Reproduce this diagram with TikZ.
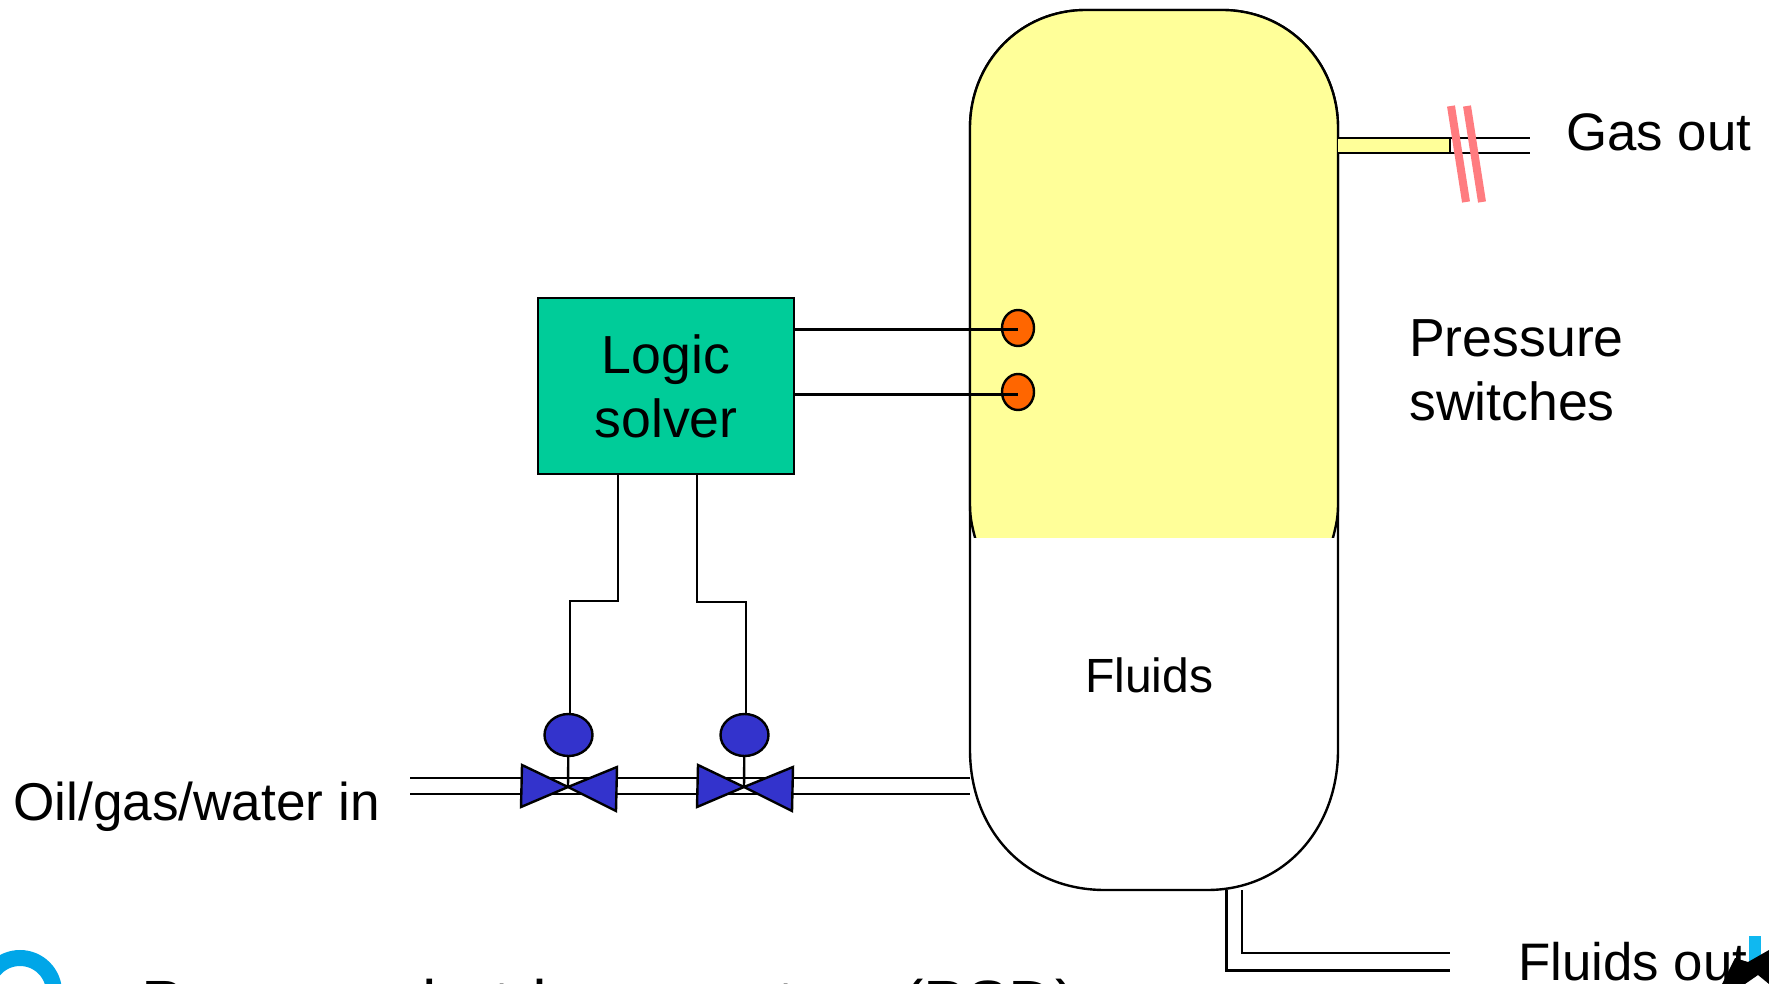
\documentclass[tikz,border=0pt]{standalone}
\usepackage{fontspec}
\usetikzlibrary{shapes.geometric}
\setmainfont{Liberation Sans}
\newcommand{\bigtxt}{\fontsize{53.6}{64}\selectfont}
\newcommand{\medtxt}{\fontsize{48}{56}\selectfont}
\newcommand{\outtxt}{\fontsize{52.8}{60}\selectfont}
\definecolor{valveblue}{HTML}{3333CC}
\definecolor{gasyellow}{HTML}{FFFF99}
\definecolor{solvergreen}{HTML}{00CC99}
\definecolor{sensororange}{HTML}{FF6600}
\definecolor{breakred}{HTML}{FF7C80}
\definecolor{logoblue}{HTML}{00A6E8}
\definecolor{barblue}{HTML}{10B8F0}
\tikzset{
  pipe/.style={draw=black,line width=2.4pt},
  wire/.style={draw=black,line width=3pt},
  thinwire/.style={draw=black,line width=2.4pt},
  valve/.style={draw=black,fill=valveblue,line width=2.4pt},
  blob/.style={draw=black,line width=2.4pt,ellipse,inner sep=0pt},
  lbl/.style={inner sep=0pt,anchor=base west,align=left,text=black},
}
\begin{document}
\begin{tikzpicture}[x=1pt,y=-1pt]
\useasboundingbox (0,0) rectangle (1769,984);
% vessel
\draw[pipe,fill=white] (970,128) .. controls (970,62) and (1020,10) .. (1086,10) -- (1222,10) .. controls (1288,10) and (1338,62) .. (1338,128)
  -- (1338,750) .. controls (1338,828) and (1285,890) .. (1207,890) -- (1105,890) .. controls (1023,890) and (970,828) .. (970,750) -- cycle;
\begin{scope}
\clip (960,0) rectangle (1348,537);
\draw[pipe,fill=gasyellow] (970,128) .. controls (970,62) and (1020,10) .. (1086,10) -- (1222,10) .. controls (1288,10) and (1338,62) .. (1338,128)
  -- (1338,505) .. controls (1338,520) and (1335,530) .. (1331,545) -- (977,545) .. controls (973,530) and (970,520) .. (970,505) -- cycle;
\end{scope}
\draw[pipe] (970,505) -- (970,750) (1338,505) -- (1338,750);
% gas outlet
\coordinate (g1) at (1338,138); \coordinate (g2) at (1338,153);
\draw[pipe] (g1) -- (1530,138) (g2) -- (1530,153);
\draw[pipe,fill=gasyellow] (g1) -- (1450,138) -- (1450,153) -- (g2);
\draw[breakred,line width=8pt] (1451,106) -- (1466,202);
\draw[breakred,line width=8pt] (1467,106) -- (1482,202);
% fluids outlet
\draw[pipe,line width=3pt] (1226,890) -- (1226,970) -- (1450,970);
\draw[pipe] (1242,890) -- (1242,953) -- (1450,953);
% inlet
\draw[pipe] (410,778) -- (970,778) (410,794) -- (970,794);
% logic solver
\node[draw=black,line width=2.6pt,fill=solvergreen,minimum width=256pt,minimum height=176pt,inner sep=0pt,align=center,font=\bigtxt,text depth=0pt] (solver) at (666,386) {\raisebox{-1pt}{Logic}\\\raisebox{-1pt}{solver}};
% sensors
\node[blob,fill=sensororange,minimum width=32pt,minimum height=36pt] (s1) at (1018,328) {};
\node[blob,fill=sensororange,minimum width=32pt,minimum height=36pt] (s2) at (1018,392) {};
\draw[wire] (solver.east |- s1) ++(0,1) -- (1018,329);
\draw[wire] (solver.east |- s2) ++(0,2) -- (1018,394);
% valves
\foreach \n/\dx in {a/0,b/176}{
  \begin{scope}[xshift=\dx pt]
  \coordinate (c\n) at (568,787);
  \node[blob,fill=valveblue,minimum width=48pt,minimum height=42pt] (act\n) at (568.5,735) {};
  \draw[thinwire] (act\n) -- (c\n);
  \draw[valve] (522,765) -- (c\n) -- (521,807) -- cycle;
  \draw[valve] (617,767) -- (c\n) -- (616,811) -- cycle;
  \end{scope}
}
\draw[thinwire] (618,474) -- (618,601) -- (570,601) -- (570,714);
\draw[thinwire,line width=2.8pt] (697,474) -- (697,602) -- (746,602) -- (746,714);
% labels
\node[lbl,font=\outtxt] at (1566,151) {Gas out};
\node[lbl,font=\bigtxt] at (1409,356) {Pressure};
\node[lbl,font=\bigtxt] at (1409,420) {switches};
\node[lbl,font=\medtxt] at (1085,692) {Fluids};
\node[lbl,font=\fontsize{53.2}{64}\selectfont] at (13,820) {Oil/gas/water in};
\node[lbl,font=\outtxt] at (1518,980) {Fluids out};
\node[lbl,font=\fontsize{64}{70}\selectfont] at (141,1025) {Process shutdown system (PSD)};
% logo fragments
\draw[logoblue,line width=16pt] (20,992) circle[radius=34pt];
\fill[barblue] (1749,936) rectangle (1761,962);
\fill[black] (1722,984) -- (1735,958) -- (1748,962) -- (1769,950) -- (1769,984) -- (1758,975) -- (1745,984) -- cycle;
\end{tikzpicture}
\end{document}
